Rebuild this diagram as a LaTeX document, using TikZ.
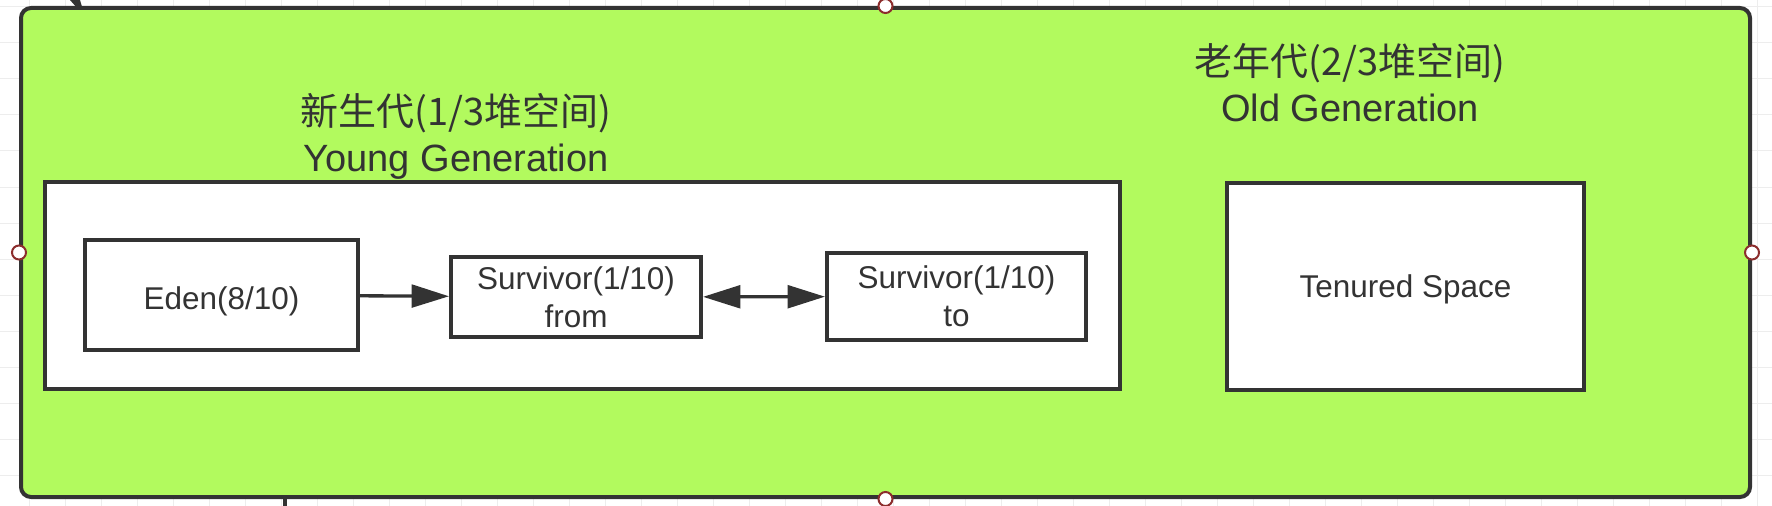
\documentclass[tikz,border=0pt]{standalone}
\usepackage{fontspec}
\setmainfont{Liberation Sans}
\newfontfamily\cjk{Noto Sans CJK SC}
\usetikzlibrary{arrows.meta}
\definecolor{heapgreen}{RGB}{178,250,94}
\definecolor{ink}{RGB}{51,51,51}
\definecolor{handle}{RGB}{140,45,45}
\tikzset{every picture/.style={line width=0.75pt}}

\begin{document}
\begin{tikzpicture}[x=0.75pt,y=0.75pt,yscale=-1,xscale=1,
  >={Triangle[length=28pt,width=17pt]},
  area/.style={draw=ink,line width=3pt,fill=white,inner sep=0pt,text=ink,align=center,font=\fontsize{23.6}{28.5}\selectfont},
  title/.style={text=ink,inner sep=0pt,align=center,font=\fontsize{28.5}{34.5}\selectfont},
  flow/.style={draw=ink,line width=2.5pt},
  grip/.style={circle,draw=handle,fill=white,line width=1.5pt,minimum size=10.5pt,inner sep=0pt}]
\useasboundingbox (0,0) rectangle (1772,506);

%Grid
\foreach \gx in {29,65,...,1772} \draw[black!7] (\gx,0) -- (\gx,506);
\foreach \gy in {7,43,...,506} \draw[black!7] (0,\gy) -- (1772,\gy);

%Stray connector ends
\fill[ink] (70,0) -- (80,0) -- (85,17) -- cycle;
\draw[ink,line width=2.5pt] (285,497) -- (285,506);

%Heap
\node (heap) [draw=ink,line width=3pt,fill=heapgreen,rounded corners=7.5pt,minimum width=1296.75pt,minimum height=366.75pt,inner sep=0pt] at (885.5,252.5) {};

%Young generation
\node (young) [area,minimum width=806.25pt,minimum height=155.25pt] at (582.5,285.5) {};
\node (eden) [area,minimum width=204.75pt,minimum height=82.5pt,text height=21pt,text depth=0pt] at (221.5,295) {Eden(8/10)};
\node (from) [area,minimum width=187.5pt,minimum height=60pt] at (576,297) {Survivor(1/10)\\from};
\node (to) [area,minimum width=194.25pt,minimum height=65.25pt] at (956.5,296.5) {Survivor(1/10)\\to};

%Old generation
\node (tenured) [area,minimum width=267.75pt,minimum height=155.25pt,text height=17pt,text depth=0pt] at (1405.5,286.5) {Tenured Space};

% Text Node
\node (younglabel) [title] at (456,136) {{\cjk 新生代(1/3堆空间)}\\Young Generation};
% Text Node
\node (oldlabel) [title] at (1350,83) {{\cjk 老年代(2/3堆空间)}\\Old Generation};

%Arrows
\draw[flow,->] (eden) -- (from);
\draw[flow,<->] (from) -- (to);

%Handles
\node (gripn) [grip] at (heap.north) {};
\node (grips) [grip] at (heap.south) {};
\node (gripw) [grip] at (heap.west) {};
\node (gripe) [grip] at (heap.east) {};

\end{tikzpicture}
\end{document}
